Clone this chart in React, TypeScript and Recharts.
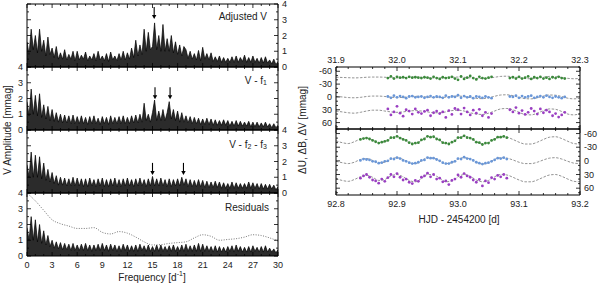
import React from 'react';
import { ComposedChart, Area, Line, Scatter, XAxis, YAxis, ReferenceDot } from 'recharts';

const FONT = '"Liberation Sans", Arial, Helvetica, sans-serif';
const TXT = '#222';

// ---------------- Periodograms (amplitude in mmag, sampled every 0.25 d^-1) ----------------
const FREQ_STEP = 0.25;
const ADJ_V = [
  1.6, 0.8, 2.4, 1.1, 2.0, 0.9, 2.4, 1.0, 1.7, 0.7, 1.9, 0.8, 1.2, 0.6, 1.3, 0.5,
  0.9, 0.5, 1.1, 0.45, 0.8, 0.5, 1.0, 0.4, 1.0, 0.45, 0.75, 0.5, 0.95, 0.4, 0.7, 0.45,
  0.85, 0.4, 1.0, 0.45, 0.7, 0.4, 0.85, 0.35, 0.95, 0.45, 0.7, 0.4, 0.85, 0.45, 1.0, 0.45,
  0.9, 0.5, 1.2, 0.6, 1.7, 0.7, 1.4, 0.8, 2.4, 1.0, 2.2, 1.1, 1.3, 2.8, 1.1, 2.0,
  1.0, 2.7, 1.0, 1.8, 1.0, 2.0, 0.9, 1.6, 0.8, 1.4, 0.7, 1.3, 1.1, 0.55, 1.0, 0.5,
  0.85, 0.45, 1.05, 0.4, 1.25, 0.5, 0.85, 0.45, 0.9, 0.35, 0.65, 0.35, 0.7, 0.3, 0.6, 0.3,
  0.55, 0.3, 0.65, 0.3, 0.7, 0.3, 0.6, 0.35, 0.75, 0.3, 0.6, 0.3, 0.7, 0.3, 0.55, 0.25,
  0.6, 0.25, 0.65, 0.25, 0.45, 0.2, 0.5, 0.15, 0.35,
];
const V_F1 = [
  1.8, 0.9, 2.6, 1.0, 2.2, 0.9, 2.3, 0.8, 1.6, 0.7, 1.5, 0.6, 1.3, 0.55, 1.1, 0.5,
  1.0, 0.45, 0.95, 0.45, 0.9, 0.4, 0.95, 0.4, 0.85, 0.4, 0.9, 0.4, 0.8, 0.35, 0.85, 0.4,
  0.9, 0.4, 0.75, 0.35, 0.85, 0.4, 0.8, 0.35, 0.9, 0.4, 0.8, 0.4, 0.85, 0.4, 0.9, 0.4,
  0.8, 0.4, 0.9, 0.45, 0.95, 0.45, 1.0, 0.5, 1.7, 0.6, 1.0, 0.5, 1.1, 1.9, 0.6, 1.2,
  0.6, 1.3, 0.6, 1.1, 1.8, 0.7, 1.3, 0.6, 1.2, 0.5, 1.1, 0.5, 0.9, 0.45, 0.85, 0.4,
  0.8, 0.4, 0.75, 0.35, 0.7, 0.35, 0.75, 0.35, 0.7, 0.3, 0.65, 0.3, 0.6, 0.3, 0.65, 0.3,
  0.6, 0.25, 0.55, 0.25, 0.6, 0.25, 0.55, 0.25, 0.5, 0.25, 0.55, 0.2, 0.5, 0.2, 0.5, 0.2,
  0.45, 0.2, 0.5, 0.2, 0.4, 0.15, 0.4, 0.15, 0.3,
];
const V_F2F3 = [
  1.8, 1.0, 2.6, 1.0, 2.4, 1.0, 2.3, 0.9, 1.9, 0.8, 1.5, 0.7, 1.3, 0.6, 1.1, 0.5,
  1.0, 0.5, 0.95, 0.45, 0.9, 0.45, 1.0, 0.45, 0.95, 0.45, 0.9, 0.4, 0.9, 0.4, 0.95, 0.45,
  0.85, 0.4, 0.9, 0.45, 0.95, 0.4, 0.85, 0.4, 0.9, 0.45, 0.95, 0.4, 0.85, 0.4, 0.9, 0.45,
  0.95, 0.45, 0.85, 0.4, 0.9, 0.45, 0.95, 0.45, 0.85, 0.4, 0.9, 0.45, 1.05, 0.45, 0.9, 0.45,
  0.95, 0.45, 0.85, 0.4, 0.9, 0.4, 0.85, 0.45, 0.9, 0.45, 1.0, 0.5, 0.9, 0.4, 0.85, 0.4,
  0.8, 0.4, 0.85, 0.4, 0.8, 0.35, 0.75, 0.35, 0.7, 0.35, 0.75, 0.35, 0.7, 0.3, 0.65, 0.3,
  0.6, 0.3, 0.7, 0.3, 0.65, 0.3, 0.6, 0.3, 0.6, 0.3, 0.7, 0.3, 0.65, 0.3, 0.6, 0.25,
  0.6, 0.25, 0.55, 0.25, 0.55, 0.25, 0.5, 0.2, 0.4,
];
const RESID = [
  1.8, 1.0, 2.5, 1.0, 2.3, 0.9, 2.0, 0.8, 1.6, 0.7, 1.3, 0.6, 1.0, 0.5, 0.9, 0.45,
  0.85, 0.4, 0.8, 0.4, 0.75, 0.35, 0.8, 0.35, 0.7, 0.35, 0.75, 0.35, 0.8, 0.35, 0.7, 0.3,
  0.7, 0.35, 0.75, 0.35, 0.8, 0.35, 0.7, 0.3, 0.75, 0.35, 0.7, 0.3, 0.65, 0.3, 0.75, 0.35,
  0.7, 0.3, 0.65, 0.3, 0.7, 0.3, 0.75, 0.35, 0.65, 0.3, 0.7, 0.3, 0.6, 0.3, 0.7, 0.3,
  0.7, 0.3, 0.6, 0.3, 0.65, 0.3, 0.7, 0.3, 0.6, 0.3, 0.7, 0.3, 0.75, 0.3, 0.65, 0.3,
  0.7, 0.3, 0.8, 0.3, 0.75, 0.3, 0.65, 0.3, 0.6, 0.25, 0.65, 0.25, 0.6, 0.25, 0.55, 0.25,
  0.6, 0.3, 0.65, 0.25, 0.7, 0.3, 0.6, 0.25, 0.55, 0.25, 0.6, 0.25, 0.65, 0.3, 0.55, 0.25,
  0.6, 0.25, 0.65, 0.25, 0.5, 0.25, 0.45, 0.2, 0.4,
];
const THRESH_FREQ = [0, 1, 2, 3, 4, 5, 6, 7, 8, 9, 10, 11, 12, 13, 14, 15, 16, 17, 18, 19, 20, 21, 22, 23, 24, 25, 26, 27, 28, 29, 30];
const THRESH_AMP = [4.0, 3.5, 2.9, 2.3, 2.05, 1.9, 1.75, 1.75, 1.8, 1.5, 1.4, 1.55, 1.45, 1.2, 0.9, 0.7, 0.72, 0.8, 0.85, 0.9, 1.15, 1.35, 1.25, 1.0, 1.05, 1.1, 1.2, 1.35, 1.3, 1.15, 0.95];

const ARROWS_ADJ = [15.2];
const ARROWS_ADJ_TIP = 3.05;
const ARROWS_F1 = [15.3, 17.1];
const ARROWS_F1_TIP = 1.95;
const ARROWS_F2F3 = [15.0, 18.7];
const ARROWS_F2F3_TIP = 1.15;

const FREQ_TICKS = [0, 1, 2, 3, 4, 5, 6, 7, 8, 9, 10, 11, 12, 13, 14, 15, 16, 17, 18, 19, 20, 21, 22, 23, 24, 25, 26, 27, 28, 29, 30];
const AMP_TICKS = [0, 0.5, 1, 1.5, 2, 2.5, 3, 3.5, 4];

// ---------------- Light curves (HJD - 2454200, mmag) ----------------
const TOP_TIMES = [
  31.985, 31.99, 31.995, 32.0, 32.005, 32.01, 32.015, 32.02, 32.025, 32.03, 32.035, 32.04, 32.045, 32.05,
  32.055, 32.06, 32.065, 32.07, 32.075, 32.08, 32.085, 32.09, 32.095, 32.1, 32.105, 32.11, 32.115, 32.12,
  32.125, 32.13, 32.135, 32.14, 32.145, 32.15, 32.155, 32.185, 32.19, 32.195, 32.2, 32.205, 32.21, 32.215,
  32.22, 32.225, 32.23, 32.235, 32.24, 32.245, 32.25, 32.255, 32.26, 32.265, 32.27, 32.275,
];
const TOP_U = [
  -44, -48, -43, -47, -45, -46, -44, -47, -45, -46, -45, -44, -46, -45, -43, -47, -44, -42, -46, -44,
  -45, -47, -43, -40, -48, -42, -45, -49, -44, -41, -47, -44, -43, -45, -47, -44, -46, -43, -47, -43,
  -45, -48, -42, -46, -44, -47, -43, -45, -42, -46, -44, -47, -44, -43,
];
const TOP_B = [
  -1, 2, -3, 1, -2, 0, 3, -1, -2, 1, 0, -1, 2, 0, -2, 1, -1, 0, 2, -3,
  1, -1, 0, -4, 2, -2, 1, -1, 3, -1, 0, 2, -1, 1, 3, -1, 0, -3, 2, -2,
  1, -1, -3, 2, 0, -2, 1, -3, 0, 2, -1, 1, 3, 0,
];
const TOP_V = [
  28, 42, 35, 22, 38, 45, 30, 33, 40, 28, 36, 39, 34, 31, 44, 37, 33, 39, 35, 48,
  32, 41, 27, 30, 40, 26, 35, 42, 31, 38, 29, 44, 36, 48, 39, 30, 35, 25, 38, 32,
  41, 36, 27, 33, 40, 28, 37, 31, 35, 44, 39, 47, 42, 36,
];
const TOP_MODEL_T = [
  31.9, 31.91, 31.92, 31.93, 31.94, 31.95, 31.96, 31.97, 31.98, 31.99, 32.0, 32.01, 32.02, 32.03,
  32.04, 32.05, 32.06, 32.07, 32.08, 32.09, 32.1, 32.11, 32.12, 32.13, 32.14, 32.15, 32.16, 32.17,
  32.18, 32.19, 32.2, 32.21, 32.22, 32.23, 32.24, 32.25, 32.26, 32.27, 32.28, 32.29, 32.3,
];
const TOP_MODEL_U = [
  -46, -45.5, -45, -44.5, -45, -46, -46.5, -46.5, -46, -45, -44.5, -45, -46, -46.5, -46, -45, -44.5, -44.5, -45, -46,
  -46.5, -46, -44.5, -43.5, -43, -44, -46, -48, -48.5, -47, -45, -43, -42.5, -44, -46, -48, -47.5, -45.5, -43.5, -42.5, -43.5,
];
const TOP_MODEL_B = [
  -1, 0, 1.5, 2, 1, -1, -2, -2, -1, 0.5, 1.5, 1, -0.5, -1.5, -1, 0.5, 1.5, 1.5, 0.5, -1.5,
  -2, -1, 1.5, 3.5, 4, 2, -1.5, -4.5, -5, -3, 1, 4, 4.5, 2, -2, -4.5, -4, -1, 3, 4.5, 3,
];
const TOP_MODEL_V = [
  33, 35, 37, 38, 36, 33, 31, 31, 33, 35, 36, 35, 33, 32, 33, 35, 37, 37, 35, 32,
  31, 33, 37, 40, 41, 38, 33, 28, 27, 30, 36, 41, 42, 38, 32, 28, 29, 34, 40, 42, 39,
];

const BOT_TIMES = [
  92.84, 92.845, 92.85, 92.855, 92.86, 92.865, 92.87, 92.875, 92.88, 92.885, 92.89, 92.895, 92.9, 92.905,
  92.91, 92.915, 92.92, 92.925, 92.93, 92.935, 92.94, 92.945, 92.95, 92.955, 92.96, 92.965, 92.97, 92.975,
  92.98, 92.985, 92.99, 92.995, 93.0, 93.005, 93.01, 93.015, 93.02, 93.025, 93.03, 93.035, 93.04, 93.045,
  93.05, 93.055, 93.06, 93.065, 93.07, 93.075, 93.08,
];
const BOT_U = [
  -47, -49, -50, -48, -45, -42, -39, -41, -43, -45, -51, -51, -54, -50, -47, -45, -40, -37, -39, -40,
  -46, -48, -54, -52, -53, -48, -46, -40, -39, -37, -41, -44, -51, -51, -55, -51, -50, -47, -41, -40,
  -36, -39, -39, -45, -47, -52, -52, -54, -51,
];
const BOT_B = [
  -1, -4, -3, -2, 1, 2, 5, 4, 1, 0, -5, -4, -7, -5, -1, 1, 4, 6, 5, 3,
  -1, -2, -7, -6, -6, -3, 0, 4, 6, 6, 3, 1, -5, -4, -8, -5, -4, -1, 3, 5,
  7, 5, 4, 1, -2, -6, -5, -7, -4,
];
const BOT_V = [
  38, 33, 30, 36, 42, 44, 49, 40, 45, 37, 30, 35, 28, 36, 42, 40, 47, 50, 43, 45,
  36, 33, 27, 35, 30, 40, 38, 46, 44, 52, 43, 40, 31, 36, 28, 33, 36, 42, 47, 41,
  55, 44, 48, 37, 40, 32, 35, 30, 38,
];
const BOT_MODEL_T = [
  92.8, 92.81, 92.82, 92.83, 92.84, 92.85, 92.86, 92.87, 92.88, 92.89, 92.9, 92.91, 92.92, 92.93,
  92.94, 92.95, 92.96, 92.97, 92.98, 92.99, 93.0, 93.01, 93.02, 93.03, 93.04, 93.05, 93.06, 93.07,
  93.08, 93.09, 93.1, 93.11, 93.12, 93.13, 93.14, 93.15, 93.16, 93.17, 93.18, 93.19, 93.2,
];
const BOT_MODEL_U = [
  -44, -40, -38, -42, -48, -50, -46, -40, -42, -50, -53, -48, -40, -38, -45, -53, -52, -45, -38, -40,
  -50, -54, -50, -42, -37, -40, -48, -53, -52, -47, -41, -37, -37, -41, -47, -52, -53, -49, -43, -38, -37,
];
const BOT_MODEL_B = [
  1, 4, 6, 3, -3, -5, -1, 4, 3, -4, -7, -3, 4, 6, 0, -7, -6, 0, 6, 4,
  -4, -7, -4, 3, 7, 4, -3, -7, -6, -2, 3, 6, 6, 3, -2, -6, -7, -4, 1, 5, 6,
];
const BOT_MODEL_V = [
  39, 43, 45, 41, 35, 32, 36, 43, 41, 33, 30, 35, 43, 46, 39, 30, 31, 38, 46, 44,
  35, 30, 34, 42, 46, 43, 35, 30, 31, 36, 42, 46, 46, 42, 36, 31, 30, 34, 40, 45, 46,
];

const TOP_TIME_TICKS = [
  31.9, 31.92, 31.94, 31.96, 31.98, 32.0, 32.02, 32.04, 32.06, 32.08, 32.1,
  32.12, 32.14, 32.16, 32.18, 32.2, 32.22, 32.24, 32.26, 32.28, 32.3,
];
const BOT_TIME_TICKS = [
  92.8, 92.82, 92.84, 92.86, 92.88, 92.9, 92.92, 92.94, 92.96, 92.98, 93.0,
  93.02, 93.04, 93.06, 93.08, 93.1, 93.12, 93.14, 93.16, 93.18, 93.2,
];
const DELTA_TICKS = [-70, -60, -50, -40, -30, -20, -10, 0, 10, 20, 30, 40, 50, 60, 70];

const COL_U = '#3b8a3b';
const COL_B = '#6a97d8';
const COL_V = '#9a3fc2';

// ---------------- helpers ----------------
type Side = 'top' | 'bottom' | 'left' | 'right';

function makeTick(side: Side, isMajor: (v: number) => boolean, fmt: ((v: number) => string) | null) {
  return (p: any) => {
    const x = Number(p.x);
    const y = Number(p.y);
    const v = Number(p.payload?.value);
    const major = isMajor(v);
    const len = major ? 4 : 2;
    let x2 = x, y2 = y, tx = x, ty = y;
    let anchor: 'middle' | 'end' | 'start' = 'middle';
    if (side === 'bottom') { y2 = y - len; ty = y + 9; }
    else if (side === 'top') { y2 = y + len; ty = y - 7; }
    else if (side === 'left') { x2 = x + len; tx = x - 4; anchor = 'end'; }
    else { x2 = x - len; tx = x + 4; anchor = 'start'; }
    return (
      <g>
        <line x1={x} y1={y} x2={x2} y2={y2} stroke="#000" strokeWidth={0.8} />
        {fmt && major ? (
          <text x={tx} y={ty} textAnchor={anchor} dominantBaseline="central" fontSize={9} fontFamily={FONT} fill={TXT}>
            {fmt(v)}
          </text>
        ) : null}
      </g>
    );
  };
}

const isFreqMajor = (v: number) => Math.abs(v % 3) < 1e-6;
const isAmpMajor = (v: number) => Math.abs(v - Math.round(v)) < 1e-6;
const isTimeMajor = (v: number) => Math.abs(v * 10 - Math.round(v * 10)) < 1e-6;
const isDeltaMajor = (v: number) => Math.abs(v % 30) < 1e-6 && Math.abs(v) <= 60;
const fmtInt = (v: number) => String(Math.round(v));
const fmtTime = (v: number) => v.toFixed(1);

const arrowShape = (p: any) => {
  const cx = Number(p.cx);
  const cy = Number(p.cy);
  return (
    <g>
      <line x1={cx} y1={cy - 12} x2={cx} y2={cy - 3} stroke="#000" strokeWidth={1.1} />
      <path d={`M${cx - 2.2},${cy - 4} L${cx + 2.2},${cy - 4} L${cx},${cy} Z`} fill="#000" />
    </g>
  );
};

const dotShape = (color: string) => (p: any) => (
  <circle cx={Number(p.cx)} cy={Number(p.cy)} r={1.4} fill={color} />
);

const W = 600;
const H = 285;
const LX0 = 27;
const LX1 = 278;
const RX0 = 336;
const RX1 = 580;

type PeriodogramProps = {
  y0: number;
  y1: number;
  values: number[];
  ySide: 'left' | 'right';
  showX: boolean;
  arrows?: number[];
  arrowTip?: number;
  threshold?: boolean;
};

function Periodogram({ y0, y1, values, ySide, showX, arrows, arrowTip, threshold }: PeriodogramProps) {
  const data = values.map((a, i) => ({ f: i * FREQ_STEP, a }));
  const thr = THRESH_FREQ.map((f, i) => ({ f, a: THRESH_AMP[i] }));
  const axisLine = { stroke: '#000', strokeWidth: 1 };
  return (
    <div style={{ position: 'absolute', left: 0, top: 0 }}>
      <ComposedChart
        width={W}
        height={H}
        data={data}
        margin={{ left: LX0 - 1, right: W - LX1 - 1, top: y0 - 1, bottom: H - y1 - 1 }}
      >
        <XAxis xAxisId="b" orientation="bottom" dataKey="f" type="number" domain={[0, 30]} allowDataOverflow
          ticks={FREQ_TICKS} interval={0} height={1} tickSize={0} tickMargin={0} tickLine={false} axisLine={axisLine}
          tick={makeTick('bottom', isFreqMajor, showX ? fmtInt : null)} />
        <XAxis xAxisId="t" orientation="top" dataKey="f" type="number" domain={[0, 30]} allowDataOverflow
          ticks={FREQ_TICKS} interval={0} height={1} tickSize={0} tickMargin={0} tickLine={false} axisLine={axisLine}
          tick={makeTick('top', isFreqMajor, null)} />
        <YAxis yAxisId="l" orientation="left" type="number" domain={[0, 4]} allowDataOverflow
          ticks={AMP_TICKS} interval={0} width={1} tickSize={0} tickMargin={0} tickLine={false} axisLine={axisLine}
          tick={makeTick('left', isAmpMajor, ySide === 'left' ? fmtInt : null)} />
        <YAxis yAxisId="r" orientation="right" type="number" domain={[0, 4]} allowDataOverflow
          ticks={AMP_TICKS} interval={0} width={1} tickSize={0} tickMargin={0} tickLine={false} axisLine={axisLine}
          tick={makeTick('right', isAmpMajor, ySide === 'right' ? fmtInt : null)} />
        <Area xAxisId="b" yAxisId="l" type="linear" dataKey="a" stroke="#000" strokeWidth={0.7}
          fill="#2b2b2b" fillOpacity={1} isAnimationActive={false} dot={false} activeDot={false} />
        {threshold ? (
          <Line xAxisId="b" yAxisId="l" data={thr} dataKey="a" type="monotone" stroke="#666" strokeWidth={0.9}
            strokeDasharray="1 1.5" dot={false} activeDot={false} isAnimationActive={false} />
        ) : null}
        {(arrows || []).map((f) => (
          <ReferenceDot key={f} xAxisId="b" yAxisId="l" x={f} y={arrowTip} ifOverflow="visible" shape={arrowShape} />
        ))}
      </ComposedChart>
    </div>
  );
}

type LightCurveProps = {
  y0: number;
  y1: number;
  domain: [number, number];
  ticks: number[];
  xSide: 'top' | 'bottom';
  ySide: 'left' | 'right';
  times: number[];
  u: number[];
  b: number[];
  v: number[];
  modelT: number[];
  mu: number[];
  mb: number[];
  mv: number[];
};

function LightCurve(props: LightCurveProps) {
  const { y0, y1, domain, ticks, xSide, ySide, times, u, b, v, modelT, mu, mb, mv } = props;
  const pts = (vals: number[]) => times.map((t, i) => ({ t, v: vals[i] }));
  const mod = (vals: number[]) => modelT.map((t, i) => ({ t, v: vals[i] }));
  const axisLine = { stroke: '#000', strokeWidth: 1 };
  const dash = { stroke: '#777', strokeWidth: 0.8, strokeDasharray: '2.5 1.5' };
  return (
    <div style={{ position: 'absolute', left: 0, top: 0 }}>
      <ComposedChart
        width={W}
        height={H}
        margin={{ left: RX0 - 1, right: W - RX1 - 1, top: y0 - 1, bottom: H - y1 - 1 }}
      >
        <XAxis xAxisId="b" orientation="bottom" dataKey="t" type="number" domain={domain} allowDataOverflow
          ticks={ticks} interval={0} height={1} tickSize={0} tickMargin={0} tickLine={false} axisLine={axisLine}
          tick={makeTick('bottom', isTimeMajor, xSide === 'bottom' ? fmtTime : null)} />
        <XAxis xAxisId="t" orientation="top" dataKey="t" type="number" domain={domain} allowDataOverflow
          ticks={ticks} interval={0} height={1} tickSize={0} tickMargin={0} tickLine={false} axisLine={axisLine}
          tick={makeTick('top', isTimeMajor, xSide === 'top' ? fmtTime : null)} />
        <YAxis yAxisId="l" orientation="left" type="number" domain={[-70, 75]} reversed allowDataOverflow
          ticks={DELTA_TICKS} interval={0} width={1} tickSize={0} tickMargin={0} tickLine={false} axisLine={axisLine}
          tick={makeTick('left', isDeltaMajor, ySide === 'left' ? fmtInt : null)} />
        <YAxis yAxisId="r" orientation="right" type="number" domain={[-70, 75]} reversed allowDataOverflow
          ticks={DELTA_TICKS} interval={0} width={1} tickSize={0} tickMargin={0} tickLine={false} axisLine={axisLine}
          tick={makeTick('right', isDeltaMajor, ySide === 'right' ? fmtInt : null)} />
        <Line xAxisId="b" yAxisId="l" data={mod(mu)} dataKey="v" type="monotone" {...dash} dot={false} activeDot={false} isAnimationActive={false} />
        <Line xAxisId="b" yAxisId="l" data={mod(mb)} dataKey="v" type="monotone" {...dash} dot={false} activeDot={false} isAnimationActive={false} />
        <Line xAxisId="b" yAxisId="l" data={mod(mv)} dataKey="v" type="monotone" {...dash} dot={false} activeDot={false} isAnimationActive={false} />
        <Scatter xAxisId="b" yAxisId="l" data={pts(u)} dataKey="v" shape={dotShape(COL_U)} isAnimationActive={false} />
        <Scatter xAxisId="b" yAxisId="l" data={pts(b)} dataKey="v" shape={dotShape(COL_B)} isAnimationActive={false} />
        <Scatter xAxisId="b" yAxisId="l" data={pts(v)} dataKey="v" shape={dotShape(COL_V)} isAnimationActive={false} />
      </ComposedChart>
    </div>
  );
}

export default function App() {
  const t = { fontFamily: FONT, fill: TXT, fontSize: 10 } as const;
  return (
    <div style={{ position: 'absolute', left: 0, top: 0, width: W, height: H, background: '#fff', overflow: 'hidden' }}>
      <Periodogram y0={4} y1={67} values={ADJ_V} ySide="right" showX={false} arrows={ARROWS_ADJ} arrowTip={ARROWS_ADJ_TIP} />
      <Periodogram y0={67} y1={130} values={V_F1} ySide="left" showX={false} arrows={ARROWS_F1} arrowTip={ARROWS_F1_TIP} />
      <Periodogram y0={130} y1={193} values={V_F2F3} ySide="right" showX={false} arrows={ARROWS_F2F3} arrowTip={ARROWS_F2F3_TIP} />
      <Periodogram y0={193} y1={256} values={RESID} ySide="left" showX={true} threshold />
      <LightCurve y0={67} y1={129} domain={[31.9, 32.3]} ticks={TOP_TIME_TICKS} xSide="top" ySide="left"
        times={TOP_TIMES} u={TOP_U} b={TOP_B} v={TOP_V} modelT={TOP_MODEL_T} mu={TOP_MODEL_U} mb={TOP_MODEL_B} mv={TOP_MODEL_V} />
      <LightCurve y0={129} y1={195} domain={[92.8, 93.2]} ticks={BOT_TIME_TICKS} xSide="bottom" ySide="right"
        times={BOT_TIMES} u={BOT_U} b={BOT_B} v={BOT_V} modelT={BOT_MODEL_T} mu={BOT_MODEL_U} mb={BOT_MODEL_B} mv={BOT_MODEL_V} />
      <svg width={W} height={H} style={{ position: 'absolute', left: 0, top: 0, pointerEvents: 'none' }}>
        <text x={267} y={16} textAnchor="end" dominantBaseline="central" {...t}>Adjusted V</text>
        <text x={267} y={80} textAnchor="end" dominantBaseline="central" {...t}>
          V - f<tspan fontSize={7} dy={2}>1</tspan>
        </text>
        <text x={267} y={144} textAnchor="end" dominantBaseline="central" {...t}>
          V - f<tspan fontSize={7} dy={2}>2</tspan><tspan dy={-2}> - f</tspan><tspan fontSize={7} dy={2}>3</tspan>
        </text>
        <text x={269} y={207} textAnchor="end" dominantBaseline="central" {...t}>Residuals</text>
        <text transform="translate(7,130) rotate(-90)" textAnchor="middle" dominantBaseline="central" {...t}>V Amplitude [mmag]</text>
        <text x={152} y={277} textAnchor="middle" dominantBaseline="central" {...t}>
          Frequency [d<tspan fontSize={7} dy={-4}>-1</tspan><tspan dy={4}>]</tspan>
        </text>
        <text transform="translate(302,130) rotate(-90)" textAnchor="middle" dominantBaseline="central" {...t}>ΔU, ΔB, ΔV [mmag]</text>
        <text x={459} y={219} textAnchor="middle" dominantBaseline="central" {...t}>HJD - 2454200 [d]</text>
      </svg>
    </div>
  );
}
